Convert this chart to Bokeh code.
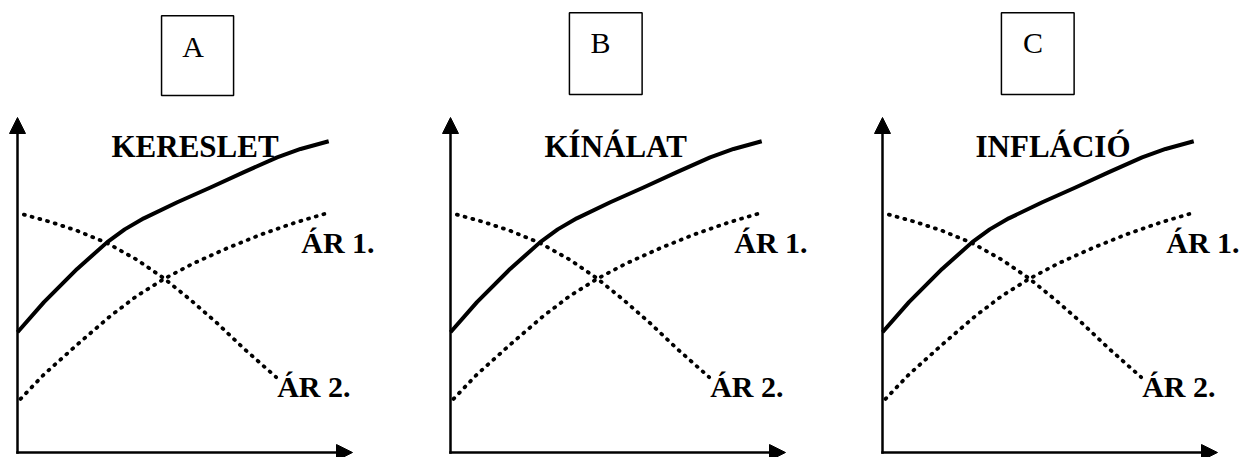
from bokeh.plotting import figure
from bokeh.layouts import row
from bokeh.models import Range1d, Arrow, NormalHead, BoxAnnotation
from bokeh.core.properties import value
from bokeh.embed import file_html
from bokeh.resources import INLINE

# ---- data (same schematic curves in each panel) ----
solid_x = [0.0, 0.79, 1.78, 2.68, 3.20, 3.77, 4.77, 5.76, 6.76, 7.75, 8.45, 9.29]
solid_y = [3.59, 4.49, 5.48, 6.28, 6.66, 6.99, 7.47, 7.91, 8.37, 8.81, 9.06, 9.29]

ar1_x = [0.09, 0.79, 1.78, 2.78, 3.57, 4.37, 5.26, 6.26, 7.25, 8.25, 9.19]
ar1_y = [1.60, 2.33, 3.22, 4.08, 4.68, 5.18, 5.65, 6.10, 6.50, 6.85, 7.13]

ar2_x = [0.19, 0.99, 1.78, 2.68, 3.57, 4.37, 5.16, 5.96, 6.76, 7.72]
ar2_y = [7.10, 6.88, 6.62, 6.25, 5.75, 5.20, 4.56, 3.86, 3.10, 2.25]

panel_letters = ["A", "B", "C"]
panel_titles = ["KERESLET", "KÍNÁLAT", "INFLÁCIÓ"]
label_ar1 = "ÁR 1."
label_ar2 = "ÁR 2."

# ---- layout / style ----
PX_X = 33.5          # pixels per data unit (x)
PX_Y = 33.5          # pixels per data unit (y)
AXIS_OFF_X = 17      # y-axis position inside each figure (px from left)
AXIS_OFF_Y = 5       # x-axis position (px from bottom)
H = 457
widths = [433, 432, 379]
TXT_UP = 0.33        # baseline correction for text rendering
title_cx = [5.30, 4.93, 5.09]
title_base = 8.81 + TXT_UP
letter_cx = [5.24, 4.48, 4.49]
letter_base = [11.79 + TXT_UP, 11.91 + TXT_UP, 11.91 + TXT_UP]
box_lr = [(4.30, 6.45), (3.55, 5.72), (3.55, 5.72)]
box_tb = [(13.04, 10.66), (13.13, 10.69), (13.13, 10.69)]
ar1_pos = (8.47, 5.94 + TXT_UP)
ar2_pos = (7.75, 1.64 + TXT_UP)
SERIF = value("Liberation Serif")

figs = []
for i in range(3):
    w = widths[i]
    p = figure(width=w, height=H, output_backend="svg", toolbar_location=None,
               x_range=Range1d(-AXIS_OFF_X / PX_X, (w - AXIS_OFF_X) / PX_X),
               y_range=Range1d(-AXIS_OFF_Y / PX_Y, (H - AXIS_OFF_Y) / PX_Y),
               min_border=0, min_border_left=0, min_border_right=0,
               min_border_top=0, min_border_bottom=0)
    p.xaxis.visible = False
    p.yaxis.visible = False
    p.grid.visible = False
    p.outline_line_color = None
    p.background_fill_color = "white"
    p.border_fill_color = "white"

    # axes as arrows
    for (xe, ye) in [(0, 10.0), (10.0, 0)]:
        p.add_layout(Arrow(end=NormalHead(size=16, fill_color="black", line_color="black", line_width=1),
                           x_start=0, y_start=0, x_end=xe, y_end=ye,
                           line_color="black", line_width=2.5, line_cap="square"))

    # panel letter box
    l, r = box_lr[i]
    t, b = box_tb[i]
    p.add_layout(BoxAnnotation(left=l, right=r, top=t, bottom=b, fill_color=None,
                               fill_alpha=0, line_color="black", line_width=1.5, line_alpha=1))
    p.text(x=[letter_cx[i]], y=[letter_base[i]], text=[panel_letters[i]],
           text_font=SERIF, text_font_size="30px", text_align="center",
           text_baseline="alphabetic", text_color="black")

    # labels
    p.text(x=[title_cx[i]], y=[title_base], text=[panel_titles[i]],
           text_font=SERIF, text_font_size="31px", text_font_style="bold",
           text_align="center", text_baseline="alphabetic", text_color="black")
    p.text(x=[ar1_pos[0]], y=[ar1_pos[1]], text=[label_ar1],
           text_font=SERIF, text_font_size="30px", text_font_style="bold",
           text_align="left", text_baseline="alphabetic", text_color="black")
    p.text(x=[ar2_pos[0]], y=[ar2_pos[1]], text=[label_ar2],
           text_font=SERIF, text_font_size="30px", text_font_style="bold",
           text_align="left", text_baseline="alphabetic", text_color="black")

    # curves
    p.line(ar1_x, ar1_y, line_color="black", line_width=3.8, line_dash="1 7", line_cap="round")
    p.line(ar2_x, ar2_y, line_color="black", line_width=3.8, line_dash="1 7", line_cap="round")
    p.line(solid_x, solid_y, line_color="black", line_width=4, line_join="round")
    figs.append(p)

layout = row(*figs, spacing=0)
open("out.html", "w").write(file_html(layout, INLINE))
